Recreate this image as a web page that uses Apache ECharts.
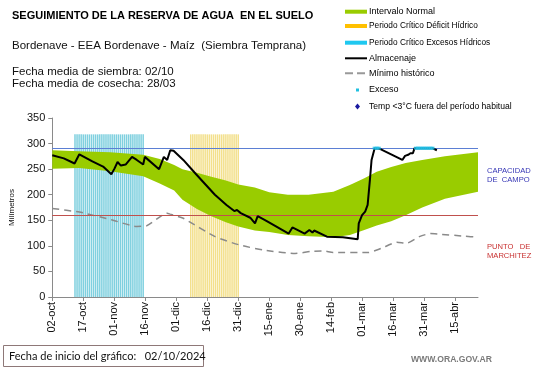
<!DOCTYPE html>
<html><head><meta charset="utf-8">
<script src="https://cdn.jsdelivr.net/npm/echarts@6/dist/echarts.min.js"></script>
<style>html,body{margin:0;padding:0;background:#fff}#c{width:541px;height:368px}</style>
</head><body><div id="c"></div>
<script>
// x values are day offsets from 02-oct-2024
var tickLabels = ['02-oct','17-oct','01-nov','16-nov','01-dic','16-dic','31-dic','15-ene','30-ene','14-feb','01-mar','16-mar','31-mar','15-abr'];
var bandDays = [0,13,28,44,52,59,63,70,77,84,90,98,105,114,124,136,144,151,157,164,171,179,190,206];
var bandHigh = [287,285,283,278,270,258,250,243,235,228,220,214,205,200,200,206,219,232,245,254,262,268,275,283];
var bandLow  = [251,252,246,236,222,208,190,172,158,146,138,130,127,121,119,117,121,131,140,148,160,175,192,206];
var almDays = [0,5.6,10.8,11.6,13.1,19.4,24.6,28.6,30.1,31.6,33.2,35.5,38.6,40.9,44,44.8,51.7,54,55.6,57.1,58.7,59.4,63.4,69.6,78.7,84.3,88.1,89.4,91.2,95.8,98.1,99.4,103.6,114.4,116.2,122.1,124.4,125.9,126.7,132.9,140.6,147.8,148.3,149.9,151.4,152.6,153.7,154.5,156,158.3,169.4,170.7,172.2,173.3,174.5,175.3,183.8,186.1];
var almVals = [277,271,261,260,279,265,255,240,251,264,257,259,274,268,259,274,250,274,268,287,286,289,268,240,200,180,168,170,164,155,144,158,149,124,136,124,131,126,130,118,117,113,144,160,167,180,229,268,291,290,268,276,278,281,281,291,291,287];
var minDays = [0,13.1,28.6,40.9,45.5,55.6,57.1,63.4,65.6,78.8,90.4,102,117.5,125.1,131.3,135.9,152.9,159.1,166.8,171.4,177.6,183,186.9,199.2,206];
var minVals = [173,166,151,138,139,164,162,154,149,118,102,92,85,89,90,87,87,95,107,105,118,124,123,119,117];
var excesoDays = [156,157,158,176,177,178,179,180,181,182,183,184];
var excesoVals = [291,291,291,291,291,291,291,291,291,291,291,291];
var excesosPeriod = [11,44];
var deficitPeriod = [67,90];
var periodTop = 318;
var capacidadCampo = 290;
var puntoMarchitez = 160;

function pairs(xs, ys){ return xs.map(function(x,i){ return [x, ys[i]]; }); }
function periodBars(p){ var out=[]; for(var d=p[0]; d<=p[1]; d++) out.push([d, periodTop]); return out; }

var chart = echarts.init(document.getElementById('c'), null, {renderer:'canvas'});
var F = 'Liberation Sans, Arial, sans-serif';
function txt(x,y,s,size,opt){ opt=opt||{}; return {type:'text', x:x, y:y, z:100, style:{text:s, font:(opt.bold?'bold ':'')+size+'px '+(opt.family||F), fill:opt.color||'#000', verticalAlign:'middle', align:'left'}}; }
function legRect(y,color){ return {type:'rect', shape:{x:345,y:y-2,width:22,height:4}, style:{fill:color}, z:100}; }

var graphics = [
  txt(12,15.5,'SEGUIMIENTO DE LA RESERVA DE AGUA  EN EL SUELO',11,{bold:true}),
  txt(12,46,'Bordenave - EEA Bordenave - Maíz  (Siembra Temprana)',11.5,{color:'#111'}),
  txt(12,71.5,'Fecha media de siembra: 02/10',11.5,{color:'#111'}),
  txt(12,83.5,'Fecha media de cosecha: 28/03',11.5,{color:'#111'}),
  legRect(11.7,'#99cc00'), txt(369,11.7,'Intervalo Normal',9),
  legRect(26,'#ffc000'), txt(369,26,'Periodo Crítico Déficit Hídrico',8.3),
  legRect(42.7,'#1fc8f0'), txt(369,42.7,'Periodo Crítico Excesos Hídricos',8.3),
  {type:'line', shape:{x1:345,y1:58.3,x2:367,y2:58.3}, style:{stroke:'#000',lineWidth:2}, z:100},
  txt(369,58.3,'Almacenaje',9),
  {type:'line', shape:{x1:345,y1:73.3,x2:367,y2:73.3}, style:{stroke:'#999',lineWidth:2,lineDash:[8,4]}, z:100},
  txt(369,73.3,'Mínimo histórico',9),
  {type:'rect', shape:{x:356,y:88.5,width:3,height:3}, style:{fill:'#20c0e0'}, z:100},
  txt(369,90,'Exceso',9),
  {type:'polygon', shape:{points:[[357.5,103.5],[360,106.5],[357.5,109.5],[355,106.5]]}, style:{fill:'#1a1aa0'}, z:100},
  txt(369,106.7,'Temp <3°C fuera del período habitual',8.6),
  txt(487,171,'CAPACIDAD',7.6,{color:'#3535b5'}),
  txt(487,179.5,'DE  CAMPO',7.6,{color:'#3535b5'}),
  txt(487,247,'PUNTO   DE',7.6,{color:'#c83030'}),
  txt(487,255.5,'MARCHITEZ',7.6,{color:'#c83030'}),
  {type:'rect', shape:{x:3.5,y:345.5,width:200,height:21}, style:{fill:'#fff',stroke:'#8e7878',lineWidth:1}, z:99},
  txt(9,356,'Fecha de inicio del gráfico:   02/10/2024',11,{family:'Lato, Carlito, sans-serif',color:'#111'}),
  txt(411,360,'WWW.ORA.GOV.AR',8.6,{bold:true,color:'#7a7a7a'})
];

var option = {
  animation:false,
  backgroundColor:'#fff',
  grid:{left:33,right:63,top:118,bottom:71},
  xAxis:{type:'value',min:0,max:206,interval:15,
    axisLine:{show:true,lineStyle:{color:'#8a8a8a',width:1}},
    axisTick:{show:true,length:4,lineStyle:{color:'#8a8a8a'}},
    splitLine:{show:false},
    axisLabel:{rotate:90,fontSize:11,fontFamily:F,color:'#111',margin:5,showMaxLabel:false,
      formatter:function(v){ var i=Math.round(v/15); return (Math.abs(v-15*i)<0.01 && tickLabels[i])?tickLabels[i]:''; }}
  },
  yAxis:{type:'value',min:0,max:350,interval:50,
    name:'Milímetros',nameLocation:'middle',nameGap:22,nameTextStyle:{fontSize:8,fontFamily:F,color:'#111'},
    axisLine:{show:true,lineStyle:{color:'#8a8a8a'}},
    axisTick:{show:true,length:4,lineStyle:{color:'#8a8a8a'}},
    splitLine:{show:false},
    axisLabel:{fontSize:11,fontFamily:F,color:'#111',margin:7}
  },
  graphic:graphics,
  series:[
    {type:'bar',name:'Excesos',data:periodBars(excesosPeriod),barWidth:1.5,itemStyle:{color:'#7fd0df'},z:1,silent:true},
    {type:'bar',name:'Deficit',data:periodBars(deficitPeriod),barWidth:1.5,barGap:'-100%',itemStyle:{color:'#f3e08c'},z:1,silent:true},
    {type:'custom',name:'Intervalo Normal',z:2,silent:true,data:[[0,0]],
      renderItem:function(params, api){
        var pts=[];
        for(var i=0;i<bandDays.length;i++) pts.push(api.coord([bandDays[i],bandHigh[i]]));
        for(var j=bandDays.length-1;j>=0;j--) pts.push(api.coord([bandDays[j],bandLow[j]]));
        return {type:'polygon', shape:{points:pts}, style:{fill:'#99cc00'}};
      }},
    {type:'line',name:'Mínimo histórico',data:pairs(minDays,minVals),symbol:'none',smooth:0.2,
      lineStyle:{color:'#8a8a8a',width:1.5,type:[7,5]},z:3,
      markLine:{silent:true,symbol:'none',label:{show:false},
        data:[{yAxis:capacidadCampo,lineStyle:{color:'#5b7fd4',width:1,type:'solid'}},
              {yAxis:puntoMarchitez,lineStyle:{color:'#c0504d',width:1,type:'solid'}}]}},
    {type:'line',name:'Almacenaje',data:pairs(almDays,almVals),symbol:'none',
      lineStyle:{color:'#000',width:2},z:5},
    {type:'scatter',name:'Exceso',data:pairs(excesoDays,excesoVals),symbol:'rect',symbolSize:[4,3],
      itemStyle:{color:'#20c0e8'},z:6}
  ]
};
chart.setOption(option);
</script></body></html>
